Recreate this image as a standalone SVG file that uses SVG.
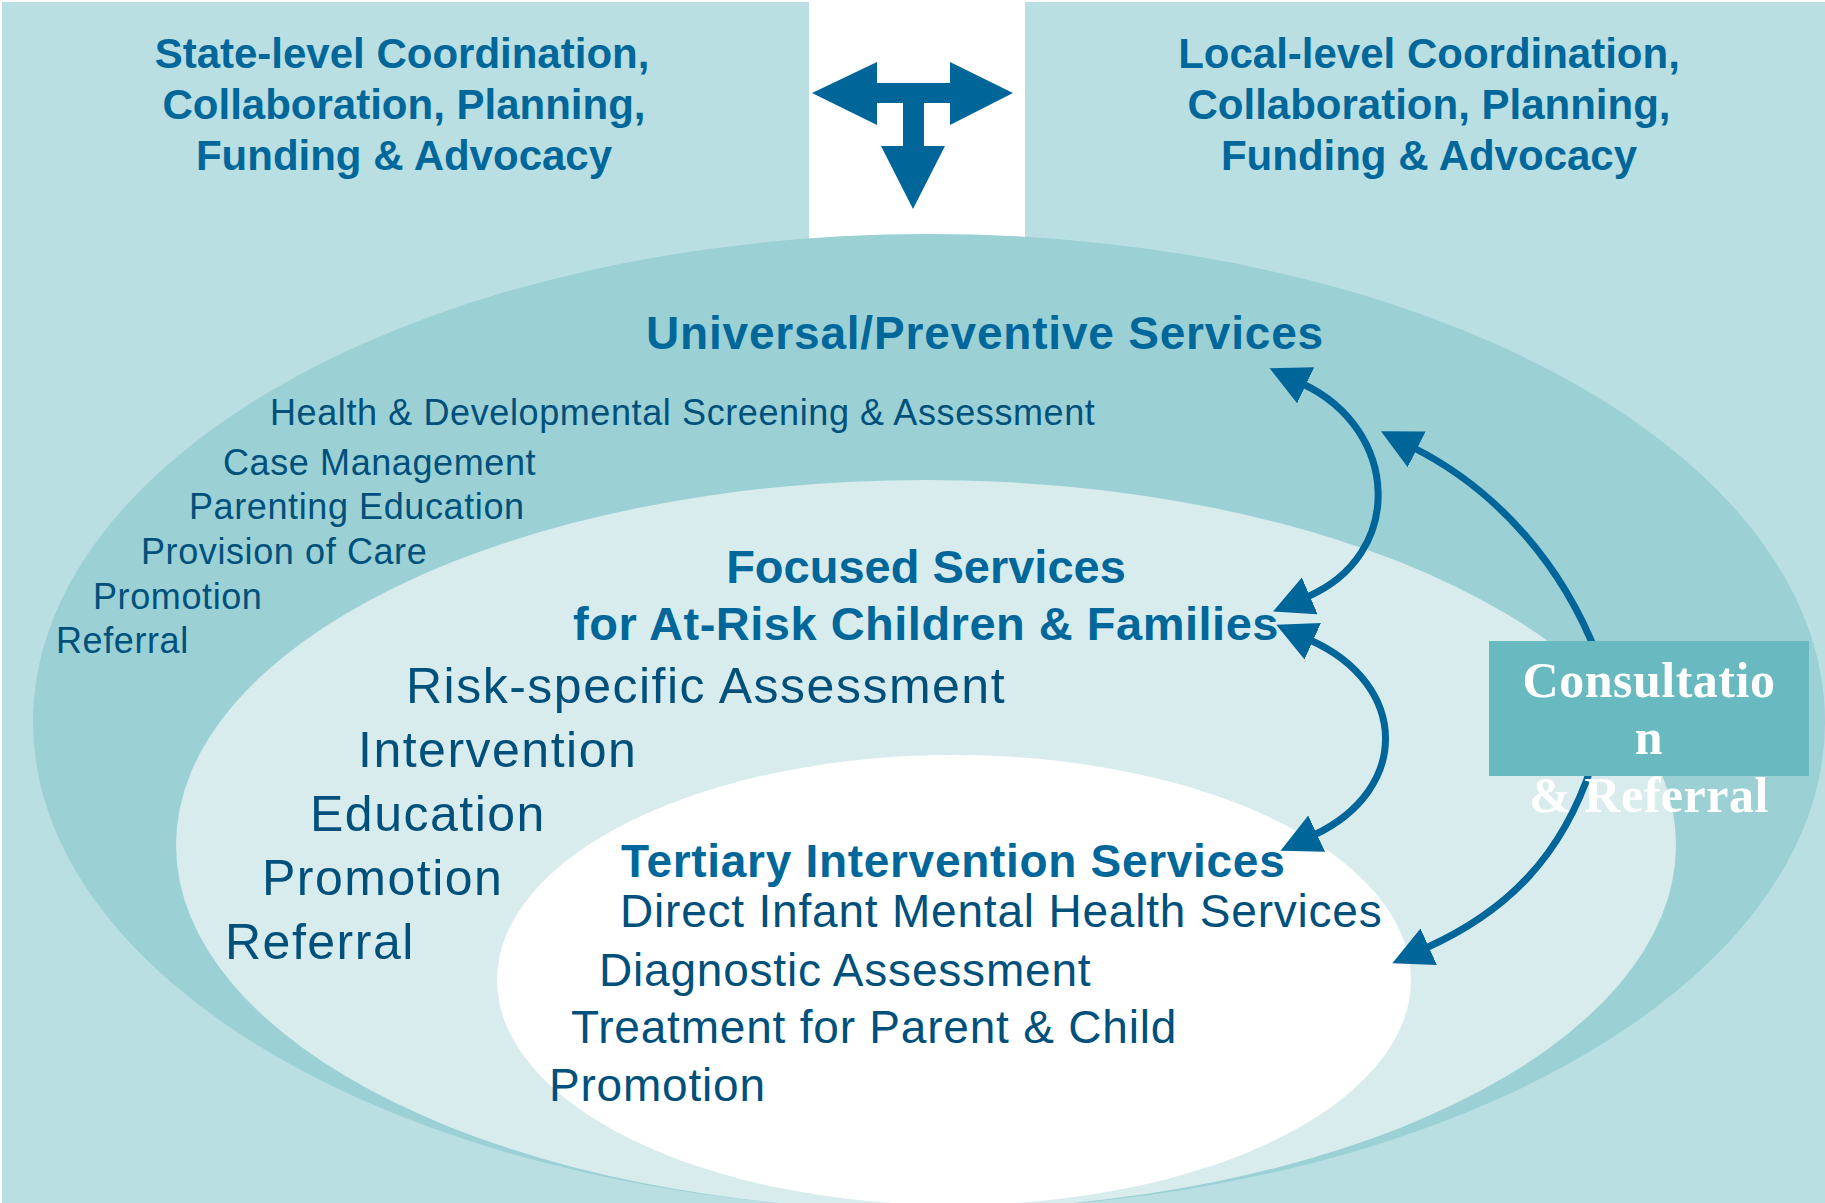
<svg xmlns="http://www.w3.org/2000/svg" width="1825" height="1203" viewBox="0 0 1825 1203">
<style>
  text{font-family:"Liberation Sans",Arial,sans-serif}
  .hd{font-weight:bold;font-size:42px;fill:#00679a;text-anchor:middle}
  .sec{font-weight:bold;fill:#00679a}
  .li{fill:#00507c}
  .u{font-size:36px;letter-spacing:0.6px}
  .f{font-size:50px;letter-spacing:1.5px}
  .t{font-size:46px;letter-spacing:0.8px}
  .conn{fill:none;stroke:#00669a;stroke-width:7}
  .cr{font-family:"Liberation Serif","Times New Roman",serif;font-weight:bold;font-size:50px;fill:#ffffff;text-anchor:middle;letter-spacing:0.5px}
</style>
<defs>
  <marker id="ah" markerUnits="userSpaceOnUse" markerWidth="44" markerHeight="42" viewBox="0 0 44 42" refX="3" refY="20" orient="auto-start-reverse">
    <path d="M0,0 L40,20 L0,40 Z" fill="#00669a"/>
  </marker>
</defs>

<rect x="0" y="0" width="1825" height="1203" fill="#ffffff"/>
<rect x="2" y="2" width="1823" height="1201" fill="#b9dfe2"/>
<rect x="809" y="0" width="216" height="260" fill="#ffffff"/>

<g id="state-level">
  <text class="hd" x="402" y="68">State-level Coordination,</text>
  <text class="hd" x="404" y="119">Collaboration, Planning,</text>
  <text class="hd" x="404" y="170">Funding &amp; Advocacy</text>
</g>

<g id="local-level">
  <text class="hd" x="1429" y="68">Local-level Coordination,</text>
  <text class="hd" x="1429" y="119">Collaboration, Planning,</text>
  <text class="hd" x="1429" y="170">Funding &amp; Advocacy</text>
</g>

<g id="t-arrow">
  <polygon fill="#00669a" points="812,93 877,62 877,83 950,83 950,62 1013,93 950,125 950,103 924,103 924,146 945,146 913,209 881,146 903,146 903,103 877,103 877,125"/>
</g>

<g id="universal">
  <ellipse cx="929" cy="722" rx="896" ry="488" fill="#9bd0d4"/>
  <text class="sec" x="985" y="349" font-size="46" letter-spacing="0.8" text-anchor="middle">Universal/Preventive Services</text>
  <text class="li u" x="270" y="425">Health &amp; Developmental Screening &amp; Assessment</text>
  <text class="li u" x="223" y="475">Case Management</text>
  <text class="li u" x="189" y="519">Parenting Education</text>
  <text class="li u" x="141" y="564">Provision of Care</text>
  <text class="li u" x="93" y="609">Promotion</text>
  <text class="li u" x="56" y="653">Referral</text>
</g>

<g id="focused">
  <ellipse cx="926" cy="845" rx="750" ry="365" fill="#d8ecee"/>
  <text class="sec" x="926" y="583" font-size="47" text-anchor="middle">Focused Services</text>
  <text class="sec" x="926" y="640" font-size="47" letter-spacing="0.5" text-anchor="middle">for At-Risk Children &amp; Families</text>
  <text class="li f" x="406" y="703">Risk-specific Assessment</text>
  <text class="li f" x="358" y="767">Intervention</text>
  <text class="li f" x="310" y="831">Education</text>
  <text class="li f" x="262" y="895">Promotion</text>
  <text class="li f" x="225" y="959">Referral</text>
</g>

<g id="tertiary">
  <ellipse cx="954" cy="980" rx="457" ry="225" fill="#ffffff"/>
  <text class="sec" x="621" y="877" font-size="46" letter-spacing="0.7">Tertiary Intervention Services</text>
  <text class="li t" x="620" y="927">Direct Infant Mental Health Services</text>
  <text class="li t" x="599" y="986">Diagnostic Assessment</text>
  <text class="li t" x="571" y="1043">Treatment for Parent &amp; Child</text>
  <text class="li t" x="549" y="1101">Promotion</text>
</g>

<g id="connectors">
  <path class="conn" d="M1303,384 C1400,430 1405,555 1307,597" marker-start="url(#ah)" marker-end="url(#ah)"/>
  <path class="conn" d="M1310,640 C1410,685 1410,790 1314,835" marker-start="url(#ah)" marker-end="url(#ah)"/>
  <path class="conn" d="M1597,655 C1563,567 1499,491 1414,448" marker-end="url(#ah)"/>
  <path class="conn" d="M1592,765 C1562,856 1508,911 1426,948" marker-end="url(#ah)"/>
</g>

<g id="consultation">
  <rect x="1489" y="641" width="320" height="135" fill="#68b9c0"/>
  <text class="cr" x="1649" y="697">Consultatio</text>
  <text class="cr" x="1649" y="754">n</text>
  <text class="cr" x="1649" y="812">&amp; Referral</text>
</g>
</svg>
